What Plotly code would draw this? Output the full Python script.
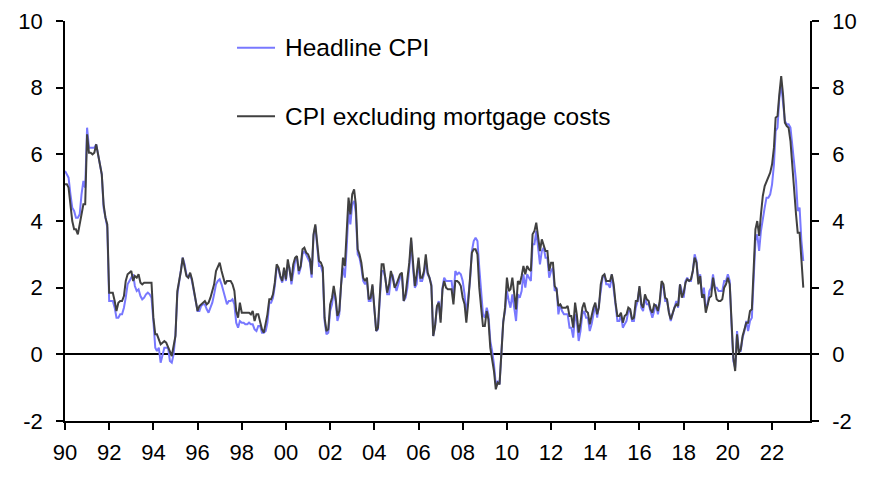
import pandas as pd
import plotly.graph_objects as go

start_month = "1990-01-01"

headline = [
    # 1990
    5.5, 5.4, 5.3, 4.8, 4.4, 4.3, 4.1, 4.1, 4.2, 4.8, 5.2, 5.0,
    # 1991
    6.8, 6.2, 6.2, 6.2, 6.2, 6.3, 6.0, 5.8, 5.4, 4.4, 4.1, 3.8,
    # 1992
    1.6, 1.6, 1.6, 1.4, 1.1, 1.1, 1.2, 1.2, 1.4, 1.7, 2.1, 2.2,
    # 1993
    2.3, 2.4, 2.05, 1.9, 1.95, 1.75, 1.65, 1.7, 1.8, 1.85, 1.8, 1.7,
    # 1994
    1.0, 0.2, 0.1, 0.2, -0.25, 0.0, 0.2, 0.2, 0.2, -0.2, -0.25, 0.0,
    # 1995
    0.6, 1.8, 2.2, 2.5, 2.9, 2.7, 2.4, 2.3, 2.4, 2.2, 1.9, 1.7,
    # 1996
    1.3, 1.3, 1.45, 1.5, 1.5, 1.35, 1.25, 1.4, 1.55, 1.8, 2.1, 2.2,
    # 1997
    2.25, 2.1, 1.9, 1.65, 1.5, 1.6, 1.6, 1.65, 1.5, 0.95, 0.8, 1.0,
    # 1998
    0.95, 0.95, 0.9, 0.9, 0.95, 0.9, 0.9, 0.75, 0.7, 0.85, 0.85, 0.65,
    # 1999
    0.65, 0.7, 0.95, 1.55, 1.55, 1.7, 2.05, 2.6, 2.55, 2.3, 2.15, 2.55,
    # 2000
    2.2, 2.7, 2.6, 2.1, 2.5, 2.8, 2.9, 2.4, 2.6, 3.0, 3.1, 3.0,
    # 2001
    2.9, 2.75, 2.3, 3.55, 3.85, 3.2, 2.65, 2.65, 2.45, 1.0, 0.6, 0.65,
    # 2002
    1.3, 1.5, 1.9, 1.6, 1.0, 1.2, 2.1, 2.6, 2.3, 3.2, 4.3, 3.9,
    # 2003
    4.5, 4.6, 4.25, 3.0, 2.9, 2.6, 2.2, 2.1, 2.2, 1.6, 1.6, 2.05,
    # 2004
    1.25, 0.7, 0.75, 1.7, 2.5, 2.5, 2.3, 1.8, 1.8, 2.3, 2.35, 2.1,
    # 2005
    1.9, 2.1, 2.3, 2.4, 1.6, 1.7, 2.0, 2.6, 3.4, 2.6, 2.0, 2.1,
    # 2006
    2.8, 2.2, 2.2, 2.4, 2.8, 2.4, 2.3, 2.1, 0.55, 0.85, 1.4, 1.6,
    # 2007
    1.05, 2.0, 2.3, 2.2, 2.2, 2.2, 2.2, 1.7, 2.5, 2.4, 2.45, 2.4,
    # 2008
    2.2, 1.8, 1.2, 1.7, 2.2, 3.1, 3.4, 3.5, 3.4, 2.6, 2.0, 1.2,
    # 2009
    1.1, 1.4, 1.2, 0.4, 0.1, -0.3, -0.9, -0.8, -0.9, 0.1, 1.0, 1.3,
    # 2010
    1.9, 1.6, 1.4, 1.8, 1.4, 1.0, 1.8, 1.7, 1.9, 2.4, 2.0, 2.4,
    # 2011
    2.3, 2.2, 3.3, 3.3, 3.7, 3.1, 2.7, 3.1, 3.2, 2.9, 2.9, 2.3,
    # 2012
    2.5, 2.6, 1.9, 2.0, 1.2, 1.5, 1.3, 1.2, 1.2, 1.2, 0.8, 0.8,
    # 2013
    0.5, 1.2, 1.0, 0.4, 0.7, 1.2, 1.3, 1.1, 1.1, 0.7, 0.9, 1.2,
    # 2014
    1.5, 1.1, 1.5, 2.0, 2.3, 2.4, 2.1, 2.1, 2.0, 2.4, 2.0, 1.5,
    # 2015
    1.0, 1.0, 1.2, 0.8, 0.9, 1.0, 1.3, 1.3, 1.0, 1.0, 1.4, 1.6,
    # 2016
    2.0, 1.4, 1.3, 1.7, 1.5, 1.5, 1.3, 1.1, 1.3, 1.5, 1.2, 1.5,
    # 2017
    2.1, 2.0, 1.6, 1.6, 1.3, 1.0, 1.2, 1.4, 1.6, 1.4, 2.1, 1.9,
    # 2018
    1.7, 2.2, 2.3, 2.2, 2.2, 2.5, 3.0, 2.8, 2.2, 2.4, 1.7, 2.0,
    # 2019
    1.4, 1.5, 1.9, 2.0, 2.4, 2.0, 2.0, 1.9, 1.9, 1.9, 2.2, 2.2,
    # 2020
    2.4, 2.2, 0.9, -0.2, -0.4, 0.7, 0.1, 0.1, 0.5, 0.7, 1.0, 0.7,
    # 2021
    1.0, 1.1, 2.2, 3.4, 3.6, 3.1, 3.7, 4.1, 4.4, 4.7, 4.7, 4.8,
    # 2022
    5.1, 5.7, 6.7, 6.8, 7.7, 8.1, 7.6, 7.0, 6.9, 6.9, 6.8, 6.3,
    # 2023
    5.9, 5.2, 4.3, 4.4, 3.4, 2.8,
]

ex_mortgage = [
    # 1990
    5.1, 5.1, 5.0, 4.5, 4.0, 3.75, 3.75, 3.6, 3.9, 4.3, 4.5, 4.5,
    # 1991
    6.6, 6.05, 6.05, 6.0, 6.05, 6.3, 6.0, 5.8, 5.4, 4.5, 4.1, 3.9,
    # 1992
    1.85, 1.85, 1.85, 1.6, 1.3, 1.55, 1.6, 1.6, 1.75, 2.2, 2.4, 2.45,
    # 1993
    2.5, 2.2, 2.35, 2.3, 2.4, 2.15, 2.1, 2.15, 2.15, 2.15, 2.15, 2.15,
    # 1994
    1.1, 0.6, 0.6, 0.45, 0.3, 0.35, 0.4, 0.35, 0.2, 0.1, -0.05, 0.25,
    # 1995
    0.55, 1.9, 2.15, 2.5, 2.9, 2.6, 2.35, 2.3, 2.45, 2.25, 1.95, 1.7,
    # 1996
    1.3, 1.45, 1.5, 1.55, 1.6, 1.5, 1.55, 1.7, 1.95, 2.1, 2.5, 2.6,
    # 1997
    2.75, 2.5, 2.3, 2.1, 2.2, 2.2, 2.2, 2.1, 1.9, 1.3, 1.1, 1.55,
    # 1998
    1.25, 1.25, 1.25, 1.25, 1.25, 1.2, 1.3, 1.0, 1.2, 1.2, 0.95, 0.75,
    # 1999
    0.65, 0.95, 1.2, 1.65, 1.65, 1.8, 2.15, 2.7, 2.6, 2.35, 2.2, 2.6,
    # 2000
    2.25, 2.85, 2.55, 2.2, 2.7, 2.9, 2.95, 2.5, 2.65, 3.15, 3.2, 3.05,
    # 2001
    3.0, 2.85, 2.4, 3.6, 3.9, 3.3, 2.8, 2.75, 2.6, 1.1, 0.7, 0.75,
    # 2002
    1.5, 1.7, 2.05, 1.7, 1.15, 1.3, 2.25, 2.9, 2.65, 3.6, 4.7, 4.2,
    # 2003
    4.8, 4.95, 4.5, 3.15, 3.0, 2.75, 2.3, 2.2, 2.3, 1.65, 1.7, 2.1,
    # 2004
    1.3, 0.7, 0.8, 1.9, 2.7, 2.7, 2.3, 1.85, 2.1, 2.5, 2.3, 2.0,
    # 2005
    2.1, 2.3, 2.4, 2.45, 1.6, 1.8, 2.2, 2.75, 3.5, 2.85, 2.05, 2.4,
    # 2006
    2.9, 2.3, 2.3, 2.5, 3.0, 2.45, 2.3, 2.05, 0.55, 0.85, 1.45, 1.55,
    # 2007
    0.95, 1.95, 2.2, 2.0, 1.95, 1.95, 1.95, 1.5, 2.2, 2.2, 2.15, 2.05,
    # 2008
    1.7, 1.5, 0.95, 1.55, 2.4, 3.05, 3.15, 3.15, 3.0, 2.0, 1.4, 0.85,
    # 2009
    0.85, 1.3, 1.05, 0.2, -0.15, -0.5, -1.05, -0.85, -0.9, -0.05, 0.95, 1.4,
    # 2010
    2.3, 1.9, 1.95, 2.3, 1.9, 1.35, 2.2, 2.1, 2.35, 2.65, 2.4, 2.65,
    # 2011
    2.55, 2.5, 3.6, 3.7, 3.95, 3.55, 3.1, 3.45, 3.3, 3.1, 3.1, 2.5,
    # 2012
    2.75, 2.75, 2.05, 1.95, 1.45, 1.5, 1.4, 1.4, 1.4, 1.45, 1.15, 1.15,
    # 2013
    0.8, 1.55, 1.2, 0.65, 0.95, 1.4, 1.55, 1.3, 1.25, 0.9, 1.2, 1.4,
    # 2014
    1.55, 1.2, 1.4, 2.1, 2.35, 2.4, 2.2, 2.2, 2.2, 2.4, 2.1, 1.55,
    # 2015
    1.15, 1.15, 1.25, 0.95, 1.15, 1.2, 1.4, 1.35, 1.05, 1.1, 1.6, 1.6,
    # 2016
    2.05, 1.5, 1.4, 1.8, 1.65, 1.6, 1.35, 1.25, 1.5, 1.45, 1.3, 1.6,
    # 2017
    2.2, 2.1, 1.7, 1.65, 1.25, 1.05, 1.25, 1.4, 1.5, 1.45, 2.1, 1.7,
    # 2018
    1.85, 2.15, 2.25, 2.2, 2.25, 2.5, 2.9, 2.75, 2.1, 2.35, 1.7, 1.8,
    # 2019
    1.25, 1.45, 1.7, 1.75, 2.3, 1.95, 1.65, 1.6, 1.6, 1.65, 2.0, 2.1,
    # 2020
    2.3, 2.1, 1.0, -0.1, -0.5, 0.6, 0.05, 0.15, 0.55, 0.75, 0.95, 0.95,
    # 2021
    1.3, 1.35, 2.4, 3.75, 4.0, 3.55, 4.2, 4.75, 5.05, 5.2, 5.3, 5.45,
    # 2022
    5.7, 6.2, 7.1, 7.15, 7.8, 8.35, 7.8, 6.95, 6.85, 6.8, 6.4, 5.6,
    # 2023
    4.9, 4.2, 3.65, 3.65, 2.85, 2.0,
]

series_names = ["Headline CPI", "CPI excluding mortgage costs"]
y_tick_vals = [-2, 0, 2, 4, 6, 8, 10]
y_tick_text = ["-2", "0", "2", "4", "6", "8", "10"]

dates = pd.date_range(start_month, periods=len(headline), freq="MS")

BLUE = "#7878ff"
DARK = "#404040"
FONT = "Liberation Sans, Arial, sans-serif"

fig = go.Figure()
fig.add_trace(go.Scatter(x=dates, y=headline, mode="lines", name=series_names[0],
                         line=dict(color=BLUE, width=2), showlegend=False))
fig.add_trace(go.Scatter(x=dates, y=ex_mortgage, mode="lines", name=series_names[1],
                         line=dict(color=DARK, width=2), showlegend=False))
# empty trace so the right-hand axis is drawn
fig.add_trace(go.Scatter(x=dates[:1], y=[None], yaxis="y2", showlegend=False,
                         hoverinfo="skip"))

axis_common = dict(
    range=[-2, 10], tickvals=y_tick_vals, ticktext=y_tick_text,
    showgrid=False, showline=True,
    linecolor="black", linewidth=1.5, ticks="outside", ticklen=7,
    tickcolor="black", tickwidth=1.5, ticklabelstandoff=9,
    tickfont=dict(family=FONT, size=22, color="black"),
)

# manual legend (line sample + label), positioned in paper coordinates
legend_rows = [(series_names[0], BLUE, 0.933), (series_names[1], DARK, 0.762)]
for label, color, yy in legend_rows:
    fig.add_shape(type="line", xref="paper", yref="paper",
                  x0=0.2309, x1=0.2819, y0=yy, y1=yy,
                  line=dict(color=color, width=2))
    fig.add_annotation(xref="paper", yref="paper", x=0.2926, y=yy,
                       text=label, showarrow=False, xanchor="left",
                       yanchor="middle",
                       font=dict(family=FONT, size=24.5, color="black"))

fig.update_layout(
    width=875, height=480,
    margin=dict(l=57, r=73, t=13, b=67, autoexpand=False),
    paper_bgcolor="white", plot_bgcolor="white",
    font=dict(family=FONT, color="black"),
    xaxis=dict(
        range=["1990-01-01", "2023-09-20"], type="date",
        tick0="1990-01-01", dtick="M24", tickformat="%y",
        showgrid=False, showline=True, linecolor="black", linewidth=1.5,
        ticks="outside", ticklen=7, tickcolor="black", tickwidth=1.5,
        ticklabelstandoff=4,
        tickfont=dict(family=FONT, size=22, color="black"),
        zeroline=False,
    ),
    yaxis=dict(**axis_common, zeroline=True, zerolinecolor="black",
               zerolinewidth=1.5, side="left"),
    yaxis2=dict(**axis_common, overlaying="y", side="right", zeroline=False),
    showlegend=False,
)

fig.write_html("out.html")
